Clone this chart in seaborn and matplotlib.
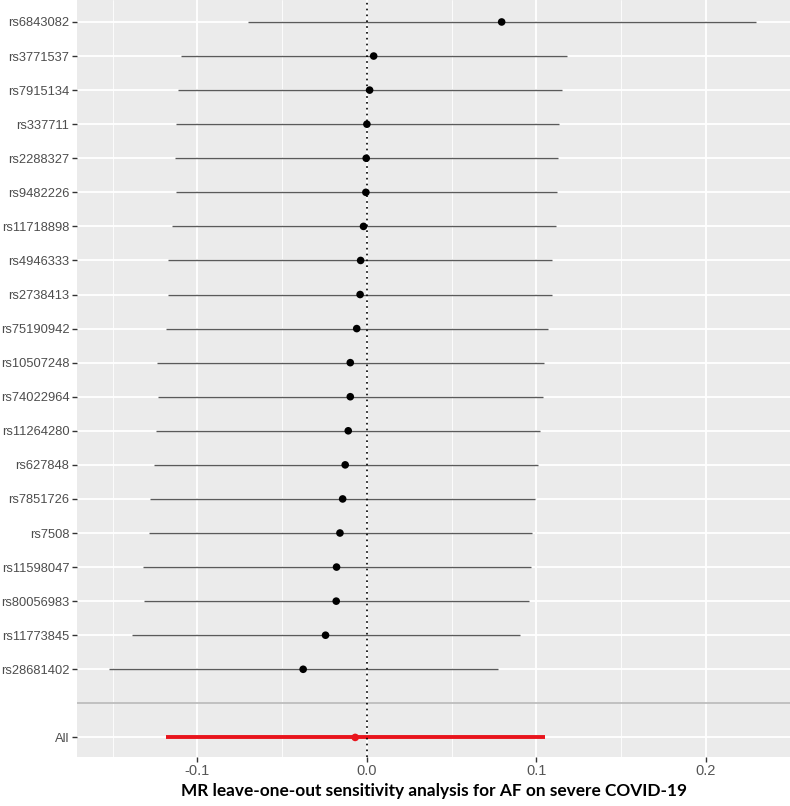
import numpy as np
import pandas as pd
import matplotlib.pyplot as plt
from matplotlib.ticker import MultipleLocator
import seaborn as sns

# --- Datos ---
snps = ['rs6843082', 'rs3771537', 'rs7915134', 'rs337711', 'rs2288327',
        'rs9482226', 'rs11718898', 'rs4946333', 'rs2738413', 'rs75190942',
        'rs10507248', 'rs74022964', 'rs11264280', 'rs627848', 'rs7851726',
        'rs7508', 'rs11598047', 'rs80056983', 'rs11773845', 'rs28681402']
b = [0.0795, 0.0040, 0.0016, 0.0000, -0.0004, -0.0006, -0.0020, -0.0037,
     -0.0040, -0.0060, -0.0098, -0.0098, -0.0110, -0.0128, -0.0143, -0.0159,
     -0.0179, -0.0181, -0.0244, -0.0376]
lo = [-0.0700, -0.1095, -0.1117, -0.1129, -0.1133, -0.1129, -0.1148, -0.1171,
      -0.1175, -0.1188, -0.1239, -0.1233, -0.1245, -0.1257, -0.1280, -0.1284,
      -0.1322, -0.1312, -0.1385, -0.1520]
up = [0.2295, 0.1178, 0.1150, 0.1133, 0.1127, 0.1119, 0.1113, 0.1093,
      0.1093, 0.1066, 0.1046, 0.1040, 0.1023, 0.1007, 0.0991, 0.0972,
      0.0966, 0.0954, 0.0901, 0.0775]

all_label = 'All'
all_b = -0.0069
all_lo = -0.1186
all_up = 0.1048

xlabel = 'MR leave-one-out sensitivity analysis for AF on severe COVID-19'

# posiciones: SNPs arriba, una fila vacía, y "All" al final
df = pd.DataFrame({'snp': snps, 'b': b, 'lo': lo, 'up': up})
df['pos'] = np.arange(len(df))
gap_pos = len(df)
all_pos = len(df) + 1
df_all = pd.DataFrame({'snp': [all_label], 'b': [all_b], 'lo': [all_lo],
                       'up': [all_up], 'pos': [all_pos]})

sns.set_theme(style='darkgrid', rc={
    'axes.facecolor': '#EBEBEB',
    'grid.color': 'white',
})
plt.rcParams['font.family'] = ['Liberation Sans', 'DejaVu Sans']

fig, ax = plt.subplots(figsize=(7.9, 8.06), dpi=100)
fig.subplots_adjust(left=0.0975, right=1.0, top=1.0, bottom=0.061)

ax.xaxis.set_major_locator(MultipleLocator(0.1))
ax.xaxis.set_minor_locator(MultipleLocator(0.05))
ax.grid(which='major', axis='both', color='white', linewidth=1.3)
ax.grid(which='minor', axis='x', color='white', linewidth=0.6)

# intervalos de confianza
ax.hlines(df['pos'], df['lo'], df['up'], color='#5a5a5a', linewidth=1.0, zorder=3)
ax.hlines(df_all['pos'], df_all['lo'], df_all['up'], color='#e8141c',
          linewidth=2.8, zorder=3)
# línea gris separando "All"
ax.axhline(gap_pos, color='#bdbdbd', linewidth=1.3, zorder=2)
ax.axvline(0, color='black', linestyle=(0, (1, 2.5)), linewidth=1.2, zorder=4)

sns.scatterplot(data=df, x='b', y='pos', color='black', s=30, edgecolor='none',
                ax=ax, zorder=5)
sns.scatterplot(data=df_all, x='b', y='pos', color='#e8141c', s=30,
                edgecolor='none', ax=ax, zorder=5)

ax.set_xlim(-0.171, 0.2496)
ax.set_ylim(all_pos + 0.57, -0.645)
ax.set_yticks(list(df['pos']) + [all_pos])
ax.set_yticklabels(list(df['snp']) + [all_label])
ax.set_xticks([-0.1, 0.0, 0.1, 0.2])
ax.set_xticklabels(['-0.1', '0.0', '0.1', '0.2'])

ax.tick_params(axis='both', which='major', length=3.5, width=1, color='#333333',
               labelcolor='#4d4d4d', pad=2)
ax.tick_params(axis='y', labelsize=9.3)
ax.tick_params(axis='x', labelsize=10.5, labelcolor='#555555')
ax.tick_params(axis='x', which='minor', length=0)
ax.tick_params(left=True, bottom=True)

ax.set_ylabel('')
ax.set_xlabel(xlabel, fontsize=12.4, fontweight='bold', family=['Lato', 'DejaVu Sans'],
              color='black', labelpad=3)
for s in ax.spines.values():
    s.set_visible(False)

plt.savefig('out.png', dpi=100)
